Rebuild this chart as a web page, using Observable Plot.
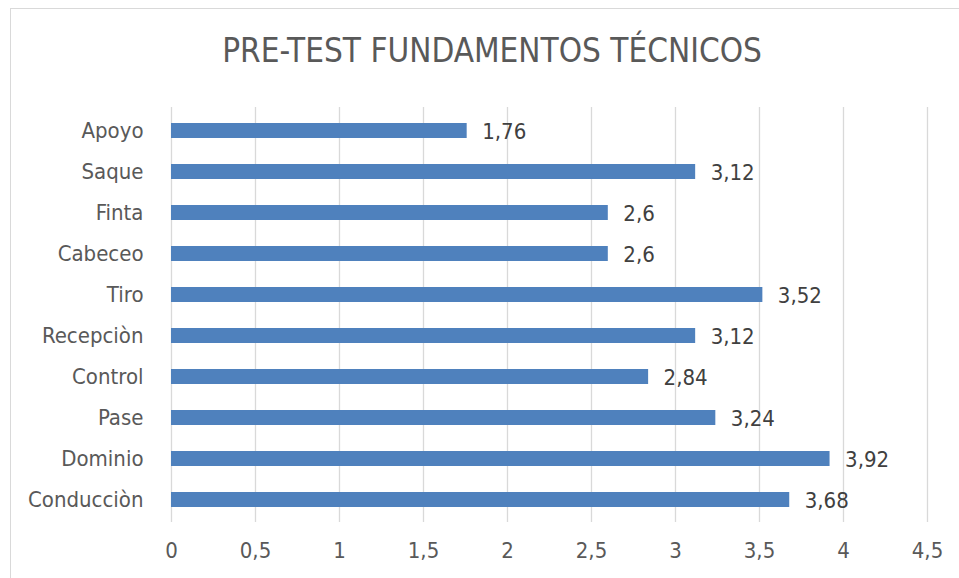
<!DOCTYPE html>
<html>
<head>
<meta charset="utf-8">
<script src="https://cdn.jsdelivr.net/npm/d3@7"></script>
<script src="https://cdn.jsdelivr.net/npm/@observablehq/plot@0.6"></script>
<style>
  html, body { margin: 0; padding: 0; background: #fff; width: 959px; height: 578px; overflow: hidden; }
  #frame { position: absolute; left: 10px; top: 8px; width: 1000px; height: 700px; border: 1px solid #d9d9d9; box-sizing: border-box; }
  #title { position: absolute; left: 0; top: 31px; width: 984px; text-align: center; font-family: "Liberation Sans Narrow", "DejaVu Sans Condensed", sans-serif; font-size: 33px; color: #595959; }
  #chart { position: absolute; left: 0; top: 0; }
</style>
</head>
<body>
<div id="frame"></div>
<div id="title">PRE-TEST FUNDAMENTOS TÉCNICOS</div>
<div id="chart"></div>
<script>
const categories = ["Apoyo", "Saque", "Finta", "Cabeceo", "Tiro", "Recepciòn", "Control", "Pase", "Dominio", "Conducciòn"];
const values = [1.76, 3.12, 2.6, 2.6, 3.52, 3.12, 2.84, 3.24, 3.92, 3.68];
const xTicks = [0, 0.5, 1, 1.5, 2, 2.5, 3, 3.5, 4, 4.5];

const data = categories.map((c, i) => ({category: c, value: values[i]}));
const fmt = v => String(v).replace(".", ",");

const chart = Plot.plot({
  width: 959,
  height: 578,
  marginTop: 107,
  marginBottom: 56,
  marginLeft: 171,
  marginRight: 32,
  style: {fontFamily: "'Liberation Sans Narrow', 'DejaVu Sans Condensed', sans-serif", fontSize: "22px", color: "#595959", background: "transparent"},
  x: {domain: [0, 4.5], ticks: xTicks, tickFormat: fmt, label: null},
  y: {domain: categories, paddingInner: 0.64, paddingOuter: 0.32, label: null},
  marks: [
    Plot.ruleX(xTicks, {stroke: "#d9d9d9", strokeWidth: 1.3}),
    Plot.barX(data, {x: "value", y: "category", fill: "#4f81bd"}),
    Plot.text(data, {x: "value", y: "category", text: d => fmt(d.value), textAnchor: "start", dx: 15, dy: 1, fill: "#404040", fontSize: 22}),
    Plot.axisX({ticks: xTicks, tickFormat: fmt, tickSize: 0, tickPadding: 20, fontSize: 22, label: null}),
    Plot.axisY({tickSize: 0, tickPadding: 28, fontSize: 22, label: null})
  ]
});
document.getElementById("chart").appendChild(chart);
</script>
</body>
</html>
